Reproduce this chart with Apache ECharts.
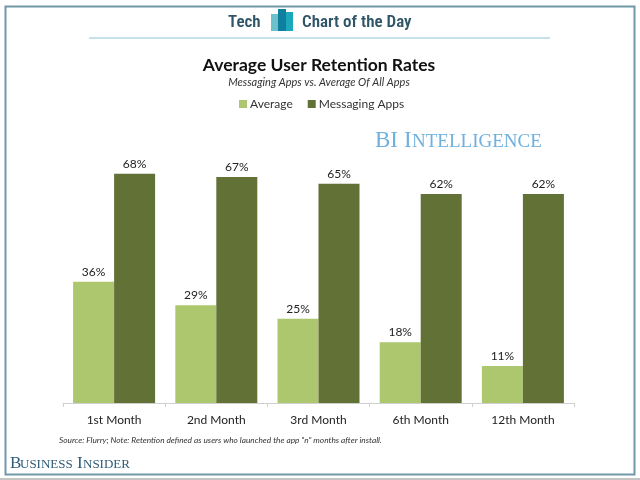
<!DOCTYPE html>
<html><head><meta charset="utf-8">
<style>html,body{margin:0;padding:0;background:#fff}#c{width:640px;height:480px}</style>
<script src="https://cdn.jsdelivr.net/npm/echarts@6/dist/echarts.min.js"></script></head>
<body><div id="c"></div>
<script>
var categories=["1st Month","2nd Month","3rd Month","6th Month","12th Month"];
var averageValues=[36,29,25,18,11];
var messagingValues=[68,67,65,62,62];
var chart=echarts.init(document.getElementById('c'),null,{renderer:'canvas'});
var labelFont='Lato,"Open Sans",sans-serif';
function txt(x,y,s,font,fill,align){return {type:'text',x:x,y:y,silent:true,style:{text:s,font:font,fill:fill,textAlign:align||'left',textVerticalAlign:'middle'}};}
function rect(x,y,w,h,fill){return {type:'rect',silent:true,shape:{x:x,y:y,width:w,height:h},style:{fill:fill}};}
function series(name,data,color){return {name:name,type:'bar',data:data,barWidth:41,barGap:'0%',itemStyle:{color:color},
 label:{show:true,position:'top',distance:4,formatter:'{c}%',fontFamily:labelFont,fontSize:12,color:'#222'}};}
chart.setOption({
 animation:false,backgroundColor:'#fff',
 title:{text:'Average User Retention Rates',subtext:'Messaging Apps vs. Average Of All Apps',left:314,top:51,textAlign:'center',itemGap:3,
  textStyle:{fontFamily:labelFont,fontSize:17.5,fontWeight:700,color:'#111'},
  subtextStyle:{fontFamily:labelFont,fontSize:11,fontStyle:'italic',color:'#333'}},
 legend:{top:93,left:234,itemWidth:8,itemHeight:8,itemGap:15,icon:'rect',
  textStyle:{fontFamily:labelFont,fontSize:12,color:'#333',padding:[0,0,0,-2]},data:['Average','Messaging Apps']},
 grid:{left:63,top:167,width:511,height:236,containLabel:false},
 xAxis:{type:'category',data:categories,axisTick:{show:true,length:4,lineStyle:{color:'#d0d0d0'}},axisLine:{lineStyle:{color:'#d0d0d0',width:1}},
  axisLabel:{fontFamily:labelFont,fontSize:12,color:'#222',margin:11}},
 yAxis:{type:'value',min:0,max:70,show:false,splitLine:{show:false}},
 series:[series('Average',averageValues,'#adc76f'),series('Messaging Apps',messagingValues,'#627135')],
 graphic:[
  {type:'rect',silent:true,shape:{x:5.5,y:6.5,width:629,height:468},style:{fill:null,stroke:'#6f97a8',lineWidth:2}},
  rect(0,478,640,2,'#c4c4c4'),
  rect(89,37,461,2,'#c5e2ea'),
  txt(228,23,'Tech','600 17px "Roboto Condensed","Open Sans","Noto Sans",sans-serif','#2f5568'),
  txt(302,23,'Chart of the Day','600 17px "Roboto Condensed","Open Sans","Noto Sans",sans-serif','#2f5568'),
  rect(271,14,7,17,'#6cc1cb'),
  rect(278,9,8,22,'#0f7f9f'),
  rect(286,12,7,19,'#1aa8ba'),
  {type:'text',x:375,y:141,silent:true,style:{text:'BI',font:'23px "Liberation Serif",serif',fill:'#6fb0de',textVerticalAlign:'middle'}},
  {type:'text',x:404,y:141,silent:true,style:{text:'I',font:'23px "Liberation Serif",serif',fill:'#6fb0de',textVerticalAlign:'middle'}},
  {type:'text',x:412,y:142,silent:true,style:{text:'NTELLIGENCE',font:'19px "Liberation Serif",serif',fill:'#6fb0de',textVerticalAlign:'middle'}},
  txt(59,440,'Source: Flurry; Note: Retention defined as users who launched the app "n" months after install.','italic 8.3px Lato,"Open Sans",sans-serif','#333'),
  {type:'text',x:10,y:464,silent:true,style:{text:'B',font:'17px "Liberation Serif",serif',fill:'#2f5b78',textVerticalAlign:'middle'}},
  {type:'text',x:20,y:465,silent:true,style:{text:'USINESS',font:'13px "Liberation Serif",serif',fill:'#2f5b78',textVerticalAlign:'middle'}},
  {type:'text',x:77,y:464,silent:true,style:{text:'I',font:'17px "Liberation Serif",serif',fill:'#2f5b78',textVerticalAlign:'middle'}},
  {type:'text',x:83,y:465,silent:true,style:{text:'NSIDER',font:'13px "Liberation Serif",serif',fill:'#2f5b78',textVerticalAlign:'middle'}}
 ]
});
</script></body></html>
